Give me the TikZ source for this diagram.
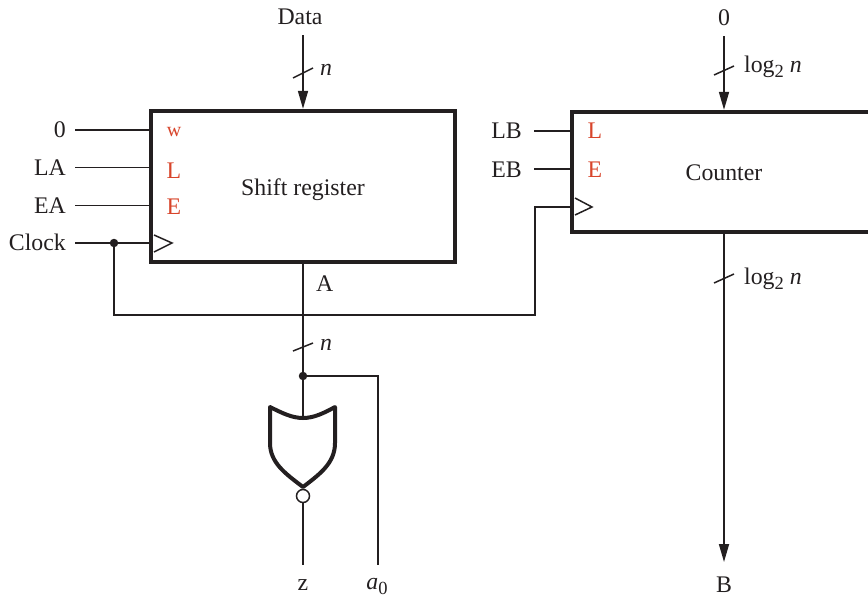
\documentclass[tikz,border=0pt]{standalone}
\usepackage{fontspec}
\setmainfont{Liberation Serif}
\usetikzlibrary{arrows.meta}
\definecolor{ink}{HTML}{231F20}
\definecolor{redlab}{HTML}{D8452B}
\newcommand{\lowsub}[2]{\raisebox{-#1pt}{\fontsize{18.5}{20}\selectfont #2}}
\tikzset{
  wire/.style={draw=ink,line width=1.7pt},
  arrowwire/.style={wire,-{Triangle[length=18pt,width=10pt]}},
  box/.style={draw=ink,line width=4.4pt,fill=white,inner sep=0pt,font=\fontsize{23.8}{26}\selectfont,text=ink},
  lab/.style={inner sep=0pt,font=\fontsize{23.8}{26}\selectfont,text=ink},
  rlab/.style={lab,anchor=base east},
  llab/.style={lab,anchor=base west},
  clab/.style={lab,anchor=base},
  port/.style={inner sep=0pt,anchor=base,font=\fontsize{23.8}{26}\selectfont,text=redlab},
  tick/.style={draw=ink,line width=1.5pt},
  jdot/.style={circle,fill=ink,inner sep=0pt,minimum size=8.5pt},
  clk/.style={draw=ink,line width=1.5pt,line join=miter},
  gate/.style={draw=ink,line width=4pt,fill=white,line join=round},
}
\begin{document}
\begin{tikzpicture}[x=1pt,y=-1pt]
\useasboundingbox (0,0) rectangle (868,598);
\clip (0,0) rectangle (868,598);
% boxes
\node[box,minimum width=304pt,minimum height=151pt] (sr) at (303,186.5) {};
\node[box,minimum width=304pt,minimum height=120pt] (ct) at (724,172) {};
\node[lab,anchor=base] (srt) at (303,195) {Shift register};
\node[lab,anchor=base] (ctt) at (724,180) {Counter};
% ports
\node[port] (pw) at (174,136) {\fontsize{20}{22}\selectfont w};
\node[port] (pl) at (174,178) {L};
\node[port] (pe) at (174,214) {E};
\node[port] (ql) at (595,138) {L};
\node[port] (qe) at (595,177) {E};
% left labels
\node[rlab] (l0) at (66,137) {0};
\node[rlab] (lla) at (66,175) {LA};
\node[rlab] (lea) at (66,213) {EA};
\node[rlab] (lck) at (66,250) {Clock};
\node[rlab] (llb) at (522,138) {LB};
\node[rlab] (leb) at (522,177) {EB};
\coordinate (w0) at (75,130);
\coordinate (wla) at (75,167.5);
\coordinate (wea) at (75,205.5);
\coordinate (wck) at (75,243);
\coordinate (wlb) at (534,131);
\coordinate (web) at (534,169);
\draw[wire] (w0) -- (w0 -| sr.west);
\draw[wire] (wla) -- (wla -| sr.west);
\draw[wire] (wea) -- (wea -| sr.west);
\draw[wire] (wck) -- (wck -| sr.west);
\draw[wire] (wlb) -- (wlb -| ct.west);
\draw[wire] (web) -- (web -| ct.west);
% clocks
\draw[clk] (154,235) -- (172,243) -- (154,252);
\draw[clk] (575,198) -- (592,207) -- (575,215);
% clock run
\node[jdot] (ckd) at (114,243) {};
\coordinate (ck1) at (114,315);
\coordinate (ck2) at (535,315);
\coordinate (ck3) at (535,207);
\draw[wire] (ckd) -- (ck1) -- (ck2) -- (ck3) -- (ck3 -| ct.west);
% data
\node[clab] (data) at (300,24) {Data};
\coordinate (d0) at (303,35);
\draw[arrowwire] (d0) -- (d0 |- sr.north);
\draw[tick] (293,78) -- (313,68);
\node[llab] (dn) at (320,75) {\textit{n}};
\node[llab] (a) at (316,291) {A};
% counter input
\node[clab] (c0) at (724,25) {0};
\coordinate (c1) at (724,36);
\draw[arrowwire] (c1) -- (c1 |- ct.north);
\draw[tick] (714,75) -- (734,66);
\node[llab] (cn) at (744,72) {log\lowsub{5}{2} \textit{n}};
% counter output
\coordinate (b1) at (724,562);
\node[clab] (bl) at (724,592) {B};
\draw[arrowwire] (ct.south -| b1) -- (b1);
\draw[tick] (714,283) -- (734,274);
\node[llab] (bn) at (744,284) {log\lowsub{5}{2} \textit{n}};
% gate
\coordinate (gt) at (303,418);
\node[jdot] (gd) at (303,376) {};
\draw[wire] (sr.south) -- (gd);
\draw[tick] (293,351) -- (313,343);
\node[llab] (gn) at (320,350) {\textit{n}};
\draw[wire] (gd) -- (gt);
\coordinate (a1) at (378,376);
\coordinate (a2) at (378,565);
\draw[wire] (gd) -- (a1) -- (a2);
\draw[gate] (270,407) .. controls (282,413) and (292,418) .. (gt)
  .. controls (314,418) and (324,413) .. (335,407)
  -- (335,443) .. controls (335,463) and (320,474) .. (303,487)
  .. controls (286,474) and (270,463) .. (270,443) -- cycle;
\node[circle,draw=ink,line width=1.5pt,fill=white,minimum size=13pt,inner sep=0pt] (bub) at (303,496) {};
\coordinate (z1) at (303,565);
\draw[wire] (bub) -- (z1);
\node[clab] (z) at (303,590) {z};
\node[clab] (a0) at (377,589) {\textit{a}\lowsub{5}{0}};
\end{tikzpicture}
\end{document}
